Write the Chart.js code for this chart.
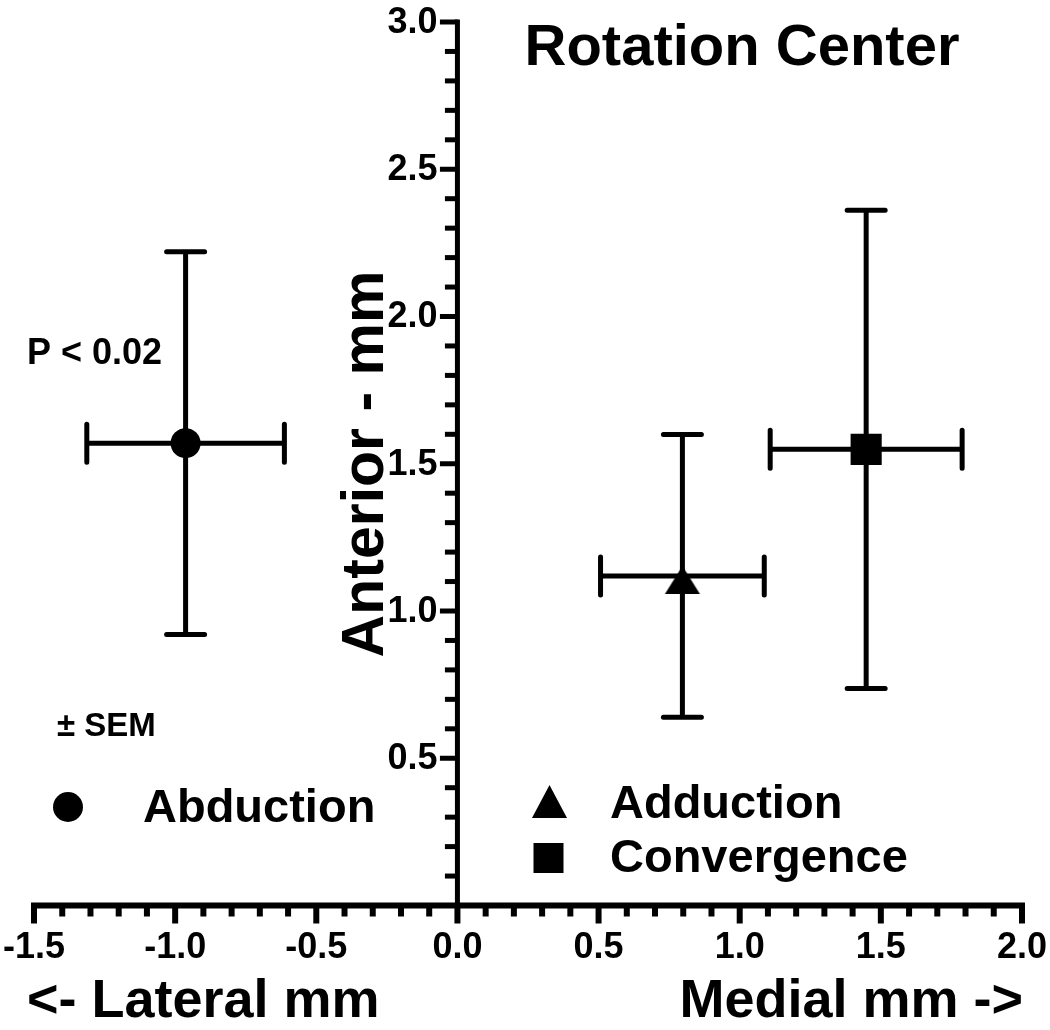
<!DOCTYPE html>
<html>
<head>
<meta charset="utf-8">
<script src="https://cdn.jsdelivr.net/npm/chart.js@4.4.1/dist/chart.umd.min.js"></script>
<style>
  html, body { margin: 0; padding: 0; background: #fff; overflow: hidden; }
  #wrap { width: 1050px; height: 1030px; position: relative; }
</style>
</head>
<body>
<div id="wrap"><canvas id="rotChart"></canvas></div>
<script>
const seriesNames = ['Abduction', 'Adduction', 'Convergence'];
const seriesShapes = ['circle', 'triangle', 'rect'];
const xMean = [-0.963, 0.797, 1.448];
const xSem = [0.35, 0.29, 0.34];
const yMean = [1.570, 1.119, 1.549];
const ySem = [0.65, 0.48, 0.812];
const xRange = [-1.5, 2.0];
const yRange = [0, 3.0];

const FONT = '"Liberation Sans", Arial, Helvetica, sans-serif';

// triangle marker: point sits nearer the apex, like the original
function makeTriangle() {
    const c = document.createElement('canvas');
    c.width = 40; c.height = 40;
    const g = c.getContext('2d');
    g.fillStyle = '#000';
    g.beginPath();
    g.moveTo(20, 10);
    g.lineTo(37.5, 38);
    g.lineTo(2.5, 38);
    g.closePath();
    g.fill();
    return c;
}
const triImg = makeTriangle();

const errorBars = {
    id: 'errorBars',
    afterDatasetsDraw(chart) {
        const ctx = chart.ctx;
        const xs = chart.scales.x, ys = chart.scales.y;
        const cap = 19;
        ctx.save();
        ctx.strokeStyle = '#000';
        ctx.lineWidth = 5;
        ctx.lineCap = 'round';
        xMean.forEach((xv, i) => {
            const px = xs.getPixelForValue(xv);
            const py = ys.getPixelForValue(yMean[i]);
            const x1 = xs.getPixelForValue(xv - xSem[i]);
            const x2 = xs.getPixelForValue(xv + xSem[i]);
            const y1 = ys.getPixelForValue(yMean[i] + ySem[i]);
            const y2 = ys.getPixelForValue(yMean[i] - ySem[i]);
            ctx.beginPath();
            ctx.moveTo(x1, py); ctx.lineTo(x2, py);
            ctx.moveTo(x1, py - cap); ctx.lineTo(x1, py + cap);
            ctx.moveTo(x2, py - cap); ctx.lineTo(x2, py + cap);
            ctx.moveTo(px, y1); ctx.lineTo(px, y2);
            ctx.moveTo(px - cap, y1); ctx.lineTo(px + cap, y1);
            ctx.moveTo(px - cap, y2); ctx.lineTo(px + cap, y2);
            ctx.stroke();
        });
        ctx.restore();
    }
};

const axesAndText = {
    id: 'axesAndText',
    beforeDatasetsDraw(chart) {
        const ctx = chart.ctx;
        const xs = chart.scales.x, ys = chart.scales.y;
        const x0 = xs.getPixelForValue(0);
        const y0 = ys.getPixelForValue(0);
        ctx.save();
        ctx.fillStyle = '#000';
        ctx.strokeStyle = '#000';
        ctx.lineCap = 'butt';

        // x axis with ticks every 0.1
        ctx.lineWidth = 6;
        ctx.beginPath();
        ctx.moveTo(xs.getPixelForValue(xRange[0]) - 3, y0);
        ctx.lineTo(xs.getPixelForValue(xRange[1]) + 3, y0);
        ctx.stroke();
        for (let i = 0; i <= 35; i++) {
            const v = xRange[0] + i * 0.1;
            const major = i % 5 === 0;
            const px = xs.getPixelForValue(v);
            ctx.beginPath();
            ctx.moveTo(px, y0);
            ctx.lineTo(px, y0 + (major ? 18 : 11));
            ctx.stroke();
        }

        // y axis at x = 0
        ctx.lineWidth = 5;
        const yTop = ys.getPixelForValue(yRange[1]);
        ctx.beginPath();
        ctx.moveTo(x0, y0);
        ctx.lineTo(x0, yTop - 2.5);
        ctx.stroke();
        for (let i = 1; i <= 30; i++) {
            const v = i * 0.1;
            const major = i % 5 === 0;
            const py = ys.getPixelForValue(v);
            ctx.beginPath();
            ctx.moveTo(x0, py);
            ctx.lineTo(x0 - (major ? 17.5 : 12.5), py);
            ctx.stroke();
        }

        // y tick labels from the scale's own ticks, left of the axis
        ctx.font = 'bold 36px ' + FONT;
        ctx.textAlign = 'right';
        ctx.textBaseline = 'middle';
        ys.ticks.forEach(t => {
            if (t.value === 0) return;
            ctx.fillText(Number(t.value).toFixed(1), x0 - 20, ys.getPixelForValue(t.value) + 1);
        });

        // texts
        ctx.textBaseline = 'alphabetic';
        ctx.textAlign = 'center';
        ctx.font = 'bold 58px ' + FONT;
        ctx.fillText('Rotation Center', 742, 65);

        ctx.textAlign = 'left';
        ctx.font = 'bold 36px ' + FONT;
        ctx.fillText('P < 0.02', 27, 364);
        ctx.font = 'bold 33px ' + FONT;
        ctx.fillText('\u00B1 SEM', 57, 736);

        ctx.font = 'bold 54px ' + FONT;
        ctx.fillText('<- Lateral mm', 27, 1017);
        ctx.textAlign = 'right';
        ctx.fillText('Medial mm ->', 1023, 1017);

        ctx.save();
        ctx.translate(383, 464);
        ctx.rotate(-Math.PI / 2);
        ctx.textAlign = 'center';
        ctx.font = 'bold 59px ' + FONT;
        ctx.fillText('Anterior - mm', 0, 0);
        ctx.restore();

        // legend
        ctx.textAlign = 'left';
        ctx.font = 'bold 47px ' + FONT;
        ctx.beginPath();
        ctx.arc(68, 807, 15, 0, Math.PI * 2);
        ctx.fill();
        ctx.fillText(seriesNames[0], 143, 822);

        ctx.beginPath();
        ctx.moveTo(549.5, 785);
        ctx.lineTo(567, 818);
        ctx.lineTo(532, 818);
        ctx.closePath();
        ctx.fill();
        ctx.fillText(seriesNames[1], 610, 818);

        ctx.fillRect(533.5, 843, 30, 30);
        ctx.fillText(seriesNames[2], 610, 872);
        ctx.restore();
    }
};

window.drawRotationChart = function() {
    try {
        const canvas = document.getElementById('rotChart');
        if (!canvas) return;
        const datasets = seriesNames.map((name, i) => ({
            label: name,
            data: [{ x: xMean[i], y: yMean[i] }],
            pointStyle: seriesShapes[i] === 'triangle' ? triImg : seriesShapes[i],
            pointRadius: seriesShapes[i] === 'rect' ? 22 : 15,
            backgroundColor: '#000',
            borderWidth: 0
        }));
        const tickFont = { family: FONT, size: 36, weight: 'bold' };
        window.rotChart = new Chart(canvas, {
            type: 'scatter',
            data: { datasets },
            options: {
                responsive: true,
                maintainAspectRatio: false,
                animation: false,
                events: [],
                layout: { padding: { left: 33, right: 27, top: 21, bottom: 0 } },
                plugins: { legend: { display: false }, tooltip: { enabled: false } },
                scales: {
                    x: {
                        type: 'linear', min: xRange[0], max: xRange[1],
                        grid: { display: false, drawTicks: true, tickLength: 18 },
                        border: { display: false },
                        ticks: { stepSize: 0.5, color: '#000', font: tickFont, padding: 3, maxRotation: 0,
                                 callback: v => Number(v).toFixed(1) },
                        afterFit: s => { s.height = 124.5; }
                    },
                    y: {
                        type: 'linear', min: yRange[0], max: yRange[1], position: { x: 0 },
                        grid: { display: false },
                        border: { display: false },
                        ticks: { stepSize: 0.5, display: false }
                    }
                }
            },
            plugins: [axesAndText, errorBars]
        });
    } catch (e) { console.error('Chart Error:', e); }
};

window.drawRotationChart();
</script>
</body>
</html>
